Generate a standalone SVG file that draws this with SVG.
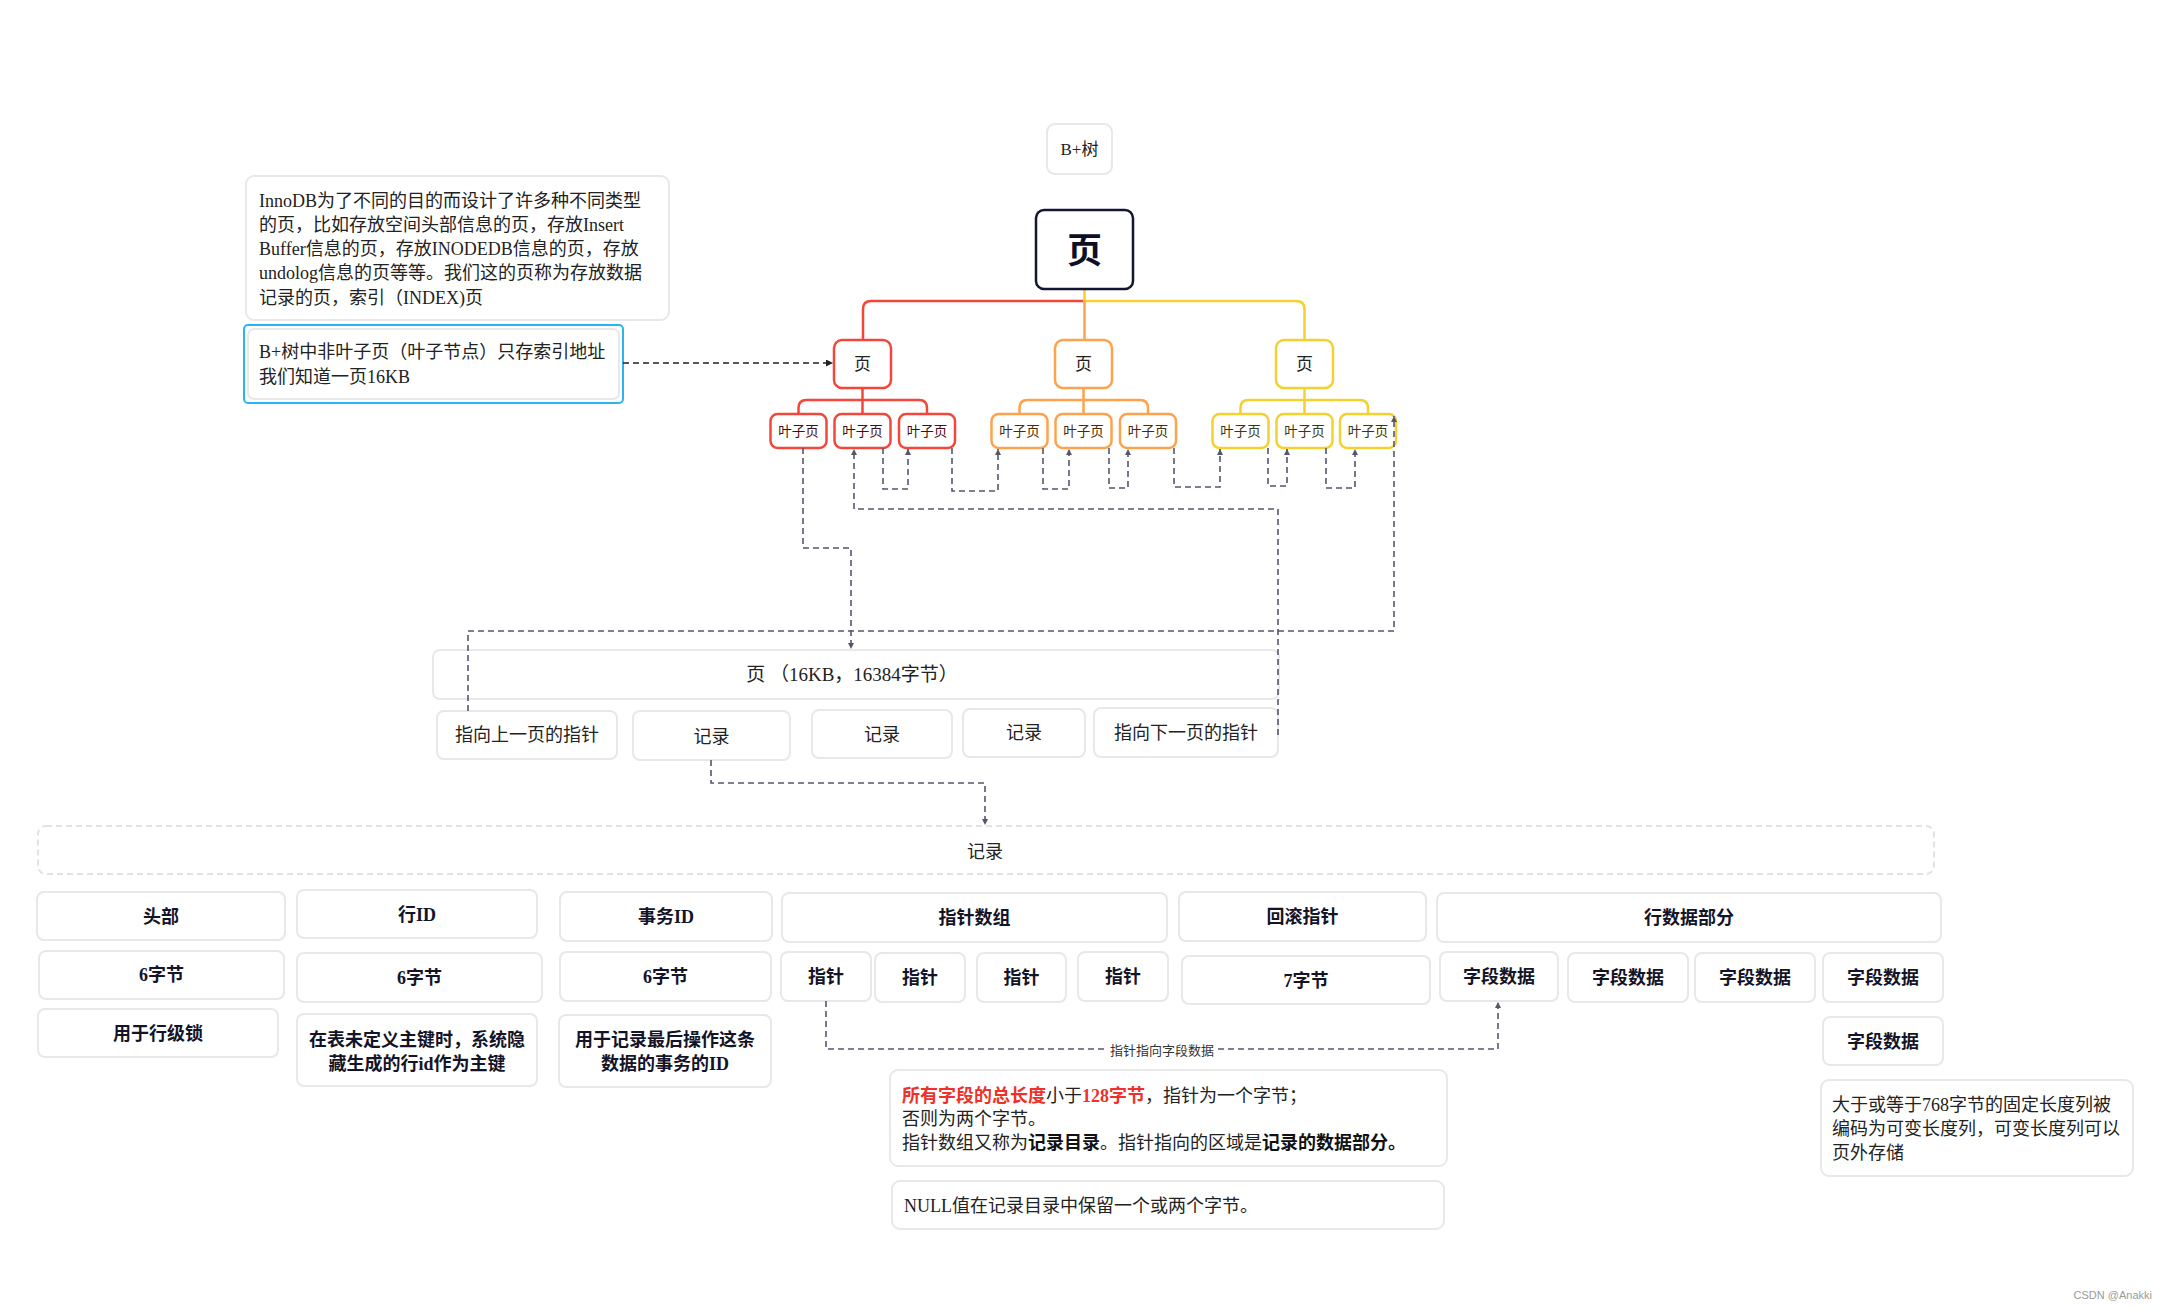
<svg xmlns="http://www.w3.org/2000/svg" width="2166" height="1309" viewBox="0 0 2166 1309">
<defs>
<style>
.box{fill:#fff;stroke:#e8e8e8;stroke-width:2}
.t{font-family:"Liberation Serif","Noto Sans CJK SC",serif;font-size:18px;fill:#222;dominant-baseline:central}
.c{text-anchor:middle}
.b{font-weight:bold;fill:#141428}
.dash{fill:none;stroke:#55556e;stroke-width:1.6;stroke-dasharray:6 4}
.red{fill:#fff;stroke:#f4473b;stroke-width:2.5}
.org{fill:#fff;stroke:#ffa24d;stroke-width:2.5}
.yel{fill:#fff;stroke:#f5d130;stroke-width:2.5}
.lr{fill:none;stroke:#f4473b;stroke-width:2.5}
.lo{fill:none;stroke:#ffa24d;stroke-width:2.5}
.ly{fill:none;stroke:#f5d130;stroke-width:2.5}
.leaf{font-size:13.5px}
</style>
<marker id="ar" viewBox="0 0 10 10" refX="10" refY="5" markerWidth="6" markerHeight="6" markerUnits="userSpaceOnUse" orient="auto"><path d="M0,0L10,5L0,10z" fill="#55556e"/></marker>
<marker id="ak" viewBox="0 0 10 10" refX="10" refY="5" markerWidth="7" markerHeight="7" markerUnits="userSpaceOnUse" orient="auto"><path d="M0,0L10,5L0,10z" fill="#222"/></marker>
</defs>
<rect width="2166" height="1309" fill="#fff"/>

<g id="tree-lines">
<path class="lr" d="M1084.5,301 H871 Q863,301 863,309 V340"/>
<path class="ly" d="M1084.5,289 V301 H1296 Q1304.5,301 1304.5,309 V340"/>
<path class="lo" d="M1084.5,301 V340"/>
<path class="lr" d="M862.5,388 V414 M862.5,400 H806.5 Q798.5,400 798.5,408 V414 M862.5,400 H919 Q927,400 927,408 V414"/>
<path class="lo" d="M1083.5,388 V414 M1083.5,400 H1027.5 Q1019.5,400 1019.5,408 V414 M1083.5,400 H1140 Q1148,400 1148,408 V414"/>
<path class="ly" d="M1304.5,388 V414 M1304.5,400 H1248.5 Q1240.5,400 1240.5,408 V414 M1304.5,400 H1360 Q1368,400 1368,408 V414"/>
</g>

<g id="btree-label"><rect class="box" x="1047" y="124" width="65" height="50" rx="8"/><text class="t c" x="1079.5" y="149" style="font-size:17px">B+树</text></g>
<g id="root"><rect x="1036" y="210" width="97" height="79" rx="8" fill="#fff" stroke="#141433" stroke-width="2.5"/><text class="t c b" x="1084.5" y="251" style="font-size:35px;fill:#0e0e26">页</text></g>

<g id="mid-red"><rect class="red" x="834" y="340" width="57" height="48" rx="8"/><text class="t c" x="862.5" y="364" style="font-size:17px">页</text></g>
<g id="mid-orange"><rect class="org" x="1055" y="340" width="57" height="48" rx="8"/><text class="t c" x="1083.5" y="364" style="font-size:17px">页</text></g>
<g id="mid-yellow"><rect class="yel" x="1276" y="340" width="57" height="48" rx="8"/><text class="t c" x="1304.5" y="364" style="font-size:17px">页</text></g>

<g id="leaf-r1"><rect class="red" x="770.5" y="414" width="56" height="34" rx="7"/><text class="t c leaf" x="798.5" y="431" style="fill:#4a0c0c">叶子页</text></g>
<g id="leaf-r2"><rect class="red" x="834.5" y="414" width="56" height="34" rx="7"/><text class="t c leaf" x="862.5" y="431" style="fill:#4a0c0c">叶子页</text></g>
<g id="leaf-r3"><rect class="red" x="899" y="414" width="56" height="34" rx="7"/><text class="t c leaf" x="927" y="431" style="fill:#4a0c0c">叶子页</text></g>
<g id="leaf-o1"><rect class="org" x="991.5" y="414" width="56" height="34" rx="7"/><text class="t c leaf" x="1019.5" y="431" style="fill:#4a2a08">叶子页</text></g>
<g id="leaf-o2"><rect class="org" x="1055.5" y="414" width="56" height="34" rx="7"/><text class="t c leaf" x="1083.5" y="431" style="fill:#4a2a08">叶子页</text></g>
<g id="leaf-o3"><rect class="org" x="1120" y="414" width="56" height="34" rx="7"/><text class="t c leaf" x="1148" y="431" style="fill:#4a2a08">叶子页</text></g>
<g id="leaf-y1"><rect class="yel" x="1212.5" y="414" width="56" height="34" rx="7"/><text class="t c leaf" x="1240.5" y="431" style="fill:#3e3608">叶子页</text></g>
<g id="leaf-y2"><rect class="yel" x="1276.5" y="414" width="56" height="34" rx="7"/><text class="t c leaf" x="1304.5" y="431" style="fill:#3e3608">叶子页</text></g>
<g id="leaf-y3"><rect class="yel" x="1340" y="414" width="56" height="34" rx="7"/><text class="t c leaf" x="1368" y="431" style="fill:#3e3608">叶子页</text></g>

<g id="note-innodb"><rect class="box" x="246" y="176" width="423" height="144" rx="8"/>
<text class="t" x="259" y="201">InnoDB为了不同的目的而设计了许多种不同类型</text>
<text class="t" x="259" y="225">的页，比如存放空间头部信息的页，存放Insert</text>
<text class="t" x="259" y="249">Buffer信息的页，存放INODEDB信息的页，存放</text>
<text class="t" x="259" y="273">undolog信息的页等等。我们这的页称为存放数据</text>
<text class="t" x="259" y="298">记录的页，索引（INDEX)页</text></g>

<g id="note-nonleaf"><rect x="244" y="325" width="379" height="78" rx="4" fill="#fff" stroke="#2bb5f0" stroke-width="2"/><rect class="box" x="248" y="329" width="371" height="70" rx="6"/>
<text class="t" x="259" y="352">B+树中非叶子页（叶子节点）只存索引地址</text>
<text class="t" x="259" y="377">我们知道一页16KB</text></g>

<g id="page"><rect class="box" x="433" y="650" width="846" height="49" rx="7"/><text class="t c" x="852" y="674" style="font-size:19px">页 （16KB，16384字节）</text></g>
<g id="prev-ptr"><rect class="box" x="437" y="711" width="180" height="48" rx="7"/><text class="t c" x="527" y="735">指向上一页的指针</text></g>
<g id="rec1"><rect class="box" x="633" y="711" width="157" height="49" rx="7"/><text class="t c" x="711.5" y="737">记录</text></g>
<g id="rec2"><rect class="box" x="812" y="710" width="140" height="48" rx="7"/><text class="t c" x="882" y="735">记录</text></g>
<g id="rec3"><rect class="box" x="963" y="709" width="122" height="48" rx="7"/><text class="t c" x="1024" y="733">记录</text></g>
<g id="next-ptr"><rect class="box" x="1094" y="708" width="184" height="49" rx="7"/><text class="t c" x="1186" y="733">指向下一页的指针</text></g>

<g id="record"><rect x="38" y="826" width="1896" height="48" rx="8" fill="#fff" stroke="#e2e2e2" stroke-width="2" stroke-dasharray="6 4"/><text class="t c" x="985" y="852">记录</text></g>

<g id="h-header"><rect class="box" x="37" y="892" width="248" height="48" rx="7"/><text class="t c b" x="161" y="917">头部</text></g>
<g id="h-rowid"><rect class="box" x="297" y="890" width="240" height="48" rx="7"/><text class="t c b" x="417" y="915">行ID</text></g>
<g id="h-trxid"><rect class="box" x="560" y="892" width="212" height="49" rx="7"/><text class="t c b" x="666" y="917">事务ID</text></g>
<g id="h-ptrarr"><rect class="box" x="782" y="893" width="385" height="49" rx="7"/><text class="t c b" x="974.5" y="918">指针数组</text></g>
<g id="h-rollptr"><rect class="box" x="1179" y="892" width="247" height="49" rx="7"/><text class="t c b" x="1302.5" y="917">回滚指针</text></g>
<g id="h-rowdata"><rect class="box" x="1437" y="893" width="504" height="49" rx="7"/><text class="t c b" x="1689" y="918">行数据部分</text></g>

<g id="s-header"><rect class="box" x="39" y="951" width="245" height="48" rx="7"/><text class="t c b" x="161.5" y="975">6字节</text></g>
<g id="s-rowid"><rect class="box" x="297" y="953" width="245" height="49" rx="7"/><text class="t c b" x="419.5" y="978">6字节</text></g>
<g id="s-trxid"><rect class="box" x="560" y="952" width="211" height="49" rx="7"/><text class="t c b" x="665.5" y="977">6字节</text></g>
<g id="ptr1"><rect class="box" x="781" y="952" width="90" height="49" rx="7"/><text class="t c b" x="826" y="977">指针</text></g>
<g id="ptr2"><rect class="box" x="875" y="953" width="90" height="49" rx="7"/><text class="t c b" x="920" y="978">指针</text></g>
<g id="ptr3"><rect class="box" x="977" y="953" width="89" height="49" rx="7"/><text class="t c b" x="1021.5" y="978">指针</text></g>
<g id="ptr4"><rect class="box" x="1078" y="952" width="90" height="49" rx="7"/><text class="t c b" x="1123" y="977">指针</text></g>
<g id="s-rollptr"><rect class="box" x="1182" y="956" width="248" height="48" rx="7"/><text class="t c b" x="1306" y="981">7字节</text></g>
<g id="field1"><rect class="box" x="1440" y="952" width="118" height="49" rx="7"/><text class="t c b" x="1499" y="977">字段数据</text></g>
<g id="field2"><rect class="box" x="1568" y="953" width="120" height="49" rx="7"/><text class="t c b" x="1628" y="978">字段数据</text></g>
<g id="field3"><rect class="box" x="1695" y="953" width="120" height="49" rx="7"/><text class="t c b" x="1755" y="978">字段数据</text></g>
<g id="field4"><rect class="box" x="1823" y="953" width="120" height="49" rx="7"/><text class="t c b" x="1883" y="978">字段数据</text></g>

<g id="d-header"><rect class="box" x="38" y="1009" width="240" height="48" rx="7"/><text class="t c b" x="158" y="1034">用于行级锁</text></g>
<g id="d-rowid"><rect class="box" x="297" y="1014" width="240" height="72" rx="7"/><text class="t c b" x="417" y="1040">在表未定义主键时，系统隐</text><text class="t c b" x="417" y="1064">藏生成的行id作为主键</text></g>
<g id="d-trxid"><rect class="box" x="559" y="1015" width="212" height="72" rx="7"/><text class="t c b" x="665" y="1040">用于记录最后操作这条</text><text class="t c b" x="665" y="1064">数据的事务的ID</text></g>
<g id="field5"><rect class="box" x="1823" y="1017" width="120" height="48" rx="7"/><text class="t c b" x="1883" y="1042">字段数据</text></g>

<g id="note-ptr"><rect class="box" x="890" y="1070" width="557" height="96" rx="8"/>
<text class="t" x="902" y="1096"><tspan font-weight="bold" fill="#f0302a">所有字段的总长度</tspan>小于<tspan font-weight="bold" fill="#f0302a">128字节</tspan>，指针为一个字节；</text>
<text class="t" x="902" y="1119">否则为两个字节。</text>
<text class="t" x="902" y="1143">指针数组又称为<tspan font-weight="bold" fill="#111">记录目录</tspan>。指针指向的区域是<tspan font-weight="bold" fill="#111">记录的数据部分。</tspan></text></g>
<g id="note-null"><rect class="box" x="892" y="1181" width="552" height="48" rx="8"/><text class="t" x="904" y="1206">NULL值在记录目录中保留一个或两个字节。</text></g>
<g id="note-768"><rect class="box" x="1821" y="1080" width="312" height="96" rx="8"/>
<text class="t" x="1832" y="1105">大于或等于768字节的固定长度列被</text>
<text class="t" x="1832" y="1129">编码为可变长度列，可变长度列可以</text>
<text class="t" x="1832" y="1153">页外存储</text></g>

<g id="connectors">
<path d="M623,363 H833" fill="none" stroke="#222" stroke-width="1.6" stroke-dasharray="6 4" marker-end="url(#ak)"/>
<path class="dash" d="M883,448 V489 H908 V449" marker-end="url(#ar)"/>
<path class="dash" d="M952,448 V491 H998 V449" marker-end="url(#ar)"/>
<path class="dash" d="M1043,448 V489 H1069 V449" marker-end="url(#ar)"/>
<path class="dash" d="M1109,448 V488 H1128 V449" marker-end="url(#ar)"/>
<path class="dash" d="M1174,448 V487 H1220 V449" marker-end="url(#ar)"/>
<path class="dash" d="M1268,448 V486 H1287 V449" marker-end="url(#ar)"/>
<path class="dash" d="M1326,448 V488 H1355 V449" marker-end="url(#ar)"/>
<path class="dash" d="M803,448 V548 H851 V649" marker-end="url(#ar)"/>
<path class="dash" d="M1278,735 V509 H854 V449" marker-end="url(#ar)"/>
<path class="dash" d="M468,711 V631 H1394 V416" marker-end="url(#ar)"/>
<path class="dash" d="M711,760 V783 H985 V825" marker-end="url(#ar)"/>
<path class="dash" d="M826,1001 V1049 H1498 V1002" marker-end="url(#ar)"/>
<rect x="1106" y="1042" width="112" height="16" fill="#fff"/>
<text x="1162" y="1050" text-anchor="middle" dominant-baseline="central" style="font-family:'Liberation Sans','Noto Sans CJK SC',sans-serif;font-size:13px;fill:#333">指针指向字段数据</text>
</g>

<text x="2152" y="1295" text-anchor="end" dominant-baseline="central" style="font-family:'Liberation Sans',sans-serif;font-size:11px;fill:#9a9a9a">CSDN @Anakki</text>
</svg>
